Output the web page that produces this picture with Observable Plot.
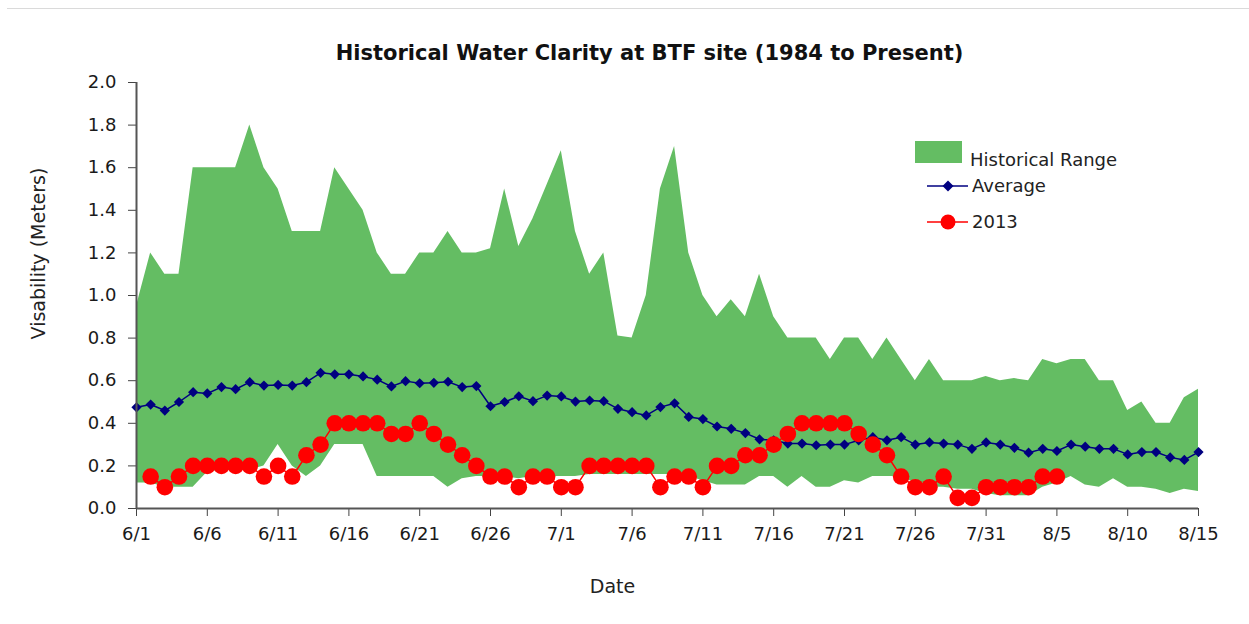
<!DOCTYPE html>
<html>
<head>
<meta charset="utf-8">
<script src="https://cdn.jsdelivr.net/npm/d3@7"></script>
<script src="https://cdn.jsdelivr.net/npm/@observablehq/plot@0.6"></script>
<style>
  body { margin: 0; background: #fff; }
  #wrap { position: relative; width: 1249px; height: 624px; font-family: "DejaVu Sans", sans-serif; overflow: hidden; }
  #topline { position: absolute; left: 7px; right: 0; top: 8px; border-top: 1px solid #dadada; }
  #legend { position: absolute; left: 0; top: 0; pointer-events: none; }
</style>
</head>
<body>
<div id="wrap"><div id="topline"></div></div>
<script>
const title = "Historical Water Clarity at BTF site (1984 to Present)";
const xTitle = "Date";
const yTitle = "Visability (Meters)";
const seriesNames = ["Historical Range", "Average", "2013"];

const dayLabels = [
  "6/1","6/2","6/3","6/4","6/5","6/6","6/7","6/8","6/9","6/10",
  "6/11","6/12","6/13","6/14","6/15","6/16","6/17","6/18","6/19","6/20",
  "6/21","6/22","6/23","6/24","6/25","6/26","6/27","6/28","6/29","6/30",
  "7/1","7/2","7/3","7/4","7/5","7/6","7/7","7/8","7/9","7/10",
  "7/11","7/12","7/13","7/14","7/15","7/16","7/17","7/18","7/19","7/20",
  "7/21","7/22","7/23","7/24","7/25","7/26","7/27","7/28","7/29","7/30",
  "7/31","8/1","8/2","8/3","8/4","8/5","8/6","8/7","8/8","8/9",
  "8/10","8/11","8/12","8/13","8/14","8/15"
];
const tickLabels = ["6/1","6/6","6/11","6/16","6/21","6/26","7/1","7/6","7/11","7/16","7/21","7/26","7/31","8/5","8/10","8/15"];
const yTicks = [0, 0.2, 0.4, 0.6, 0.8, 1.0, 1.2, 1.4, 1.6, 1.8, 2.0];

const upper = [
  0.95,1.2,1.1,1.1,1.6,1.6,1.6,1.6,1.8,1.6,
  1.5,1.3,1.3,1.3,1.6,1.5,1.4,1.2,1.1,1.1,
  1.2,1.2,1.3,1.2,1.2,1.22,1.5,1.23,1.36,1.52,
  1.68,1.3,1.1,1.2,0.81,0.8,1.0,1.5,1.7,1.2,
  1.0,0.9,0.98,0.9,1.1,0.9,0.8,0.8,0.8,0.7,
  0.8,0.8,0.7,0.8,0.7,0.6,0.7,0.6,0.6,0.6,
  0.62,0.6,0.61,0.6,0.7,0.68,0.7,0.7,0.6,0.6,
  0.46,0.5,0.4,0.4,0.52,0.56
];
const lower = [
  0.12,0.12,0.1,0.1,0.1,0.17,0.18,0.18,0.18,0.2,
  0.3,0.2,0.15,0.2,0.3,0.3,0.3,0.15,0.15,0.15,
  0.15,0.15,0.1,0.14,0.15,0.15,0.15,0.14,0.15,0.15,
  0.15,0.15,0.16,0.16,0.16,0.16,0.16,0.16,0.16,0.15,
  0.13,0.11,0.11,0.11,0.15,0.15,0.1,0.15,0.1,0.1,
  0.13,0.12,0.15,0.15,0.15,0.12,0.1,0.1,0.09,0.09,
  0.07,0.06,0.06,0.06,0.1,0.12,0.15,0.11,0.1,0.14,
  0.1,0.1,0.09,0.07,0.09,0.08
];
const average = [
  0.475,0.488,0.46,0.50,0.546,0.54,0.57,0.56,0.593,0.577,
  0.58,0.577,0.593,0.637,0.63,0.63,0.62,0.605,0.573,0.598,
  0.588,0.59,0.595,0.57,0.575,0.48,0.50,0.527,0.504,0.53,
  0.526,0.502,0.507,0.504,0.468,0.452,0.437,0.476,0.494,0.43,
  0.42,0.385,0.374,0.354,0.325,0.32,0.305,0.305,0.297,0.30,
  0.30,0.32,0.335,0.32,0.335,0.30,0.31,0.305,0.30,0.28,
  0.31,0.30,0.285,0.262,0.28,0.27,0.30,0.29,0.28,0.28,
  0.254,0.265,0.265,0.24,0.228,0.265
];
const y2013 = [
  null,0.15,0.1,0.15,0.2,0.2,0.2,0.2,0.2,0.15,
  0.2,0.15,0.25,0.3,0.4,0.4,0.4,0.4,0.35,0.35,
  0.4,0.35,0.3,0.25,0.2,0.15,0.15,0.1,0.15,0.15,
  0.1,0.1,0.2,0.2,0.2,0.2,0.2,0.1,0.15,0.15,
  0.1,0.2,0.2,0.25,0.25,0.3,0.35,0.4,0.4,0.4,
  0.4,0.35,0.3,0.25,0.15,0.1,0.1,0.15,0.05,0.05,
  0.1,0.1,0.1,0.1,0.15,0.15,null,null,null,null,
  null,null,null,null,null,null
];

const colors = { range: "#64bd63", avg: "#000080", y13: "#ff0000" };

const data = dayLabels.map((day, i) => ({
  i, day, upper: upper[i], lower: lower[i], avg: average[i], y13: y2013[i]
}));
const data13 = data.filter(d => d.y13 != null);
const tickIdx = tickLabels.map(t => dayLabels.indexOf(t));
const fmtX = i => dayLabels[i];

const chart = Plot.plot({
  width: 1249,
  height: 624,
  marginLeft: 136,
  marginRight: 51,
  marginTop: 82,
  marginBottom: 116,
  style: { fontFamily: "DejaVu Sans, sans-serif", fontSize: "18px", background: "white", color: "#1a1a1a" },
  x: { domain: [0, dayLabels.length - 1] },
  y: { domain: [0, 2] },
  marks: [
    Plot.areaY(data, { x: "i", y1: "lower", y2: "upper", fill: colors.range }),
    Plot.line(data, { x: "i", y: "avg", stroke: colors.avg, strokeWidth: 1.5 }),
    Plot.dot(data, { x: "i", y: "avg", symbol: "diamond2", r: 4.6, fill: colors.avg, stroke: "none" }),
    Plot.line(data13, { x: "i", y: "y13", stroke: colors.y13, strokeWidth: 1.5 }),
    Plot.dot(data13, { x: "i", y: "y13", r: 8.3, fill: colors.y13, stroke: "none" }),
    Plot.axisX({ ticks: tickIdx, tickFormat: fmtX, tickSize: 8, tickPadding: 11, label: null, stroke: "#444", fontSize: 18 }),
    Plot.axisY({ ticks: yTicks, tickFormat: d => d.toFixed(1), tickSize: 8, tickPadding: 12, label: null, stroke: "#444", fontSize: 18 }),
    Plot.ruleX([0], { stroke: "#555", strokeWidth: 2 }),
    Plot.ruleY([0], { stroke: "#555", strokeWidth: 2 }),
    Plot.text([title], { frameAnchor: "top", dx: -18, dy: -37, fontWeight: "bold", fontSize: 21, fill: "#111" }),
    Plot.text([xTitle], { frameAnchor: "bottom", dx: -55, dy: 84, fontSize: 19, fill: "#222" }),
    Plot.text([yTitle], { frameAnchor: "left", dx: -98, dy: -42, rotate: -90, textAnchor: "middle", fontSize: 19, fill: "#222" })
  ]
});
document.getElementById("wrap").appendChild(chart);

// Legend overlay
const ns = "http://www.w3.org/2000/svg";
const lg = document.createElementNS(ns, "svg");
lg.setAttribute("id", "legend");
lg.setAttribute("width", 1249);
lg.setAttribute("height", 624);
lg.style.fontFamily = "DejaVu Sans, sans-serif";
lg.innerHTML = `
  <rect x="915" y="141" width="47" height="22" fill="${colors.range}"/>
  <text x="970" y="160" dy="0.35em" font-size="18" fill="#222">${seriesNames[0]}</text>
  <line x1="927" y1="186" x2="968" y2="186" stroke="${colors.avg}" stroke-width="1.5"/>
  <path d="M948,180.5 L953.5,186 L948,191.5 L942.5,186 Z" fill="${colors.avg}"/>
  <text x="972" y="186" dy="0.35em" font-size="18" fill="#222">${seriesNames[1]}</text>
  <line x1="927" y1="222" x2="968" y2="222" stroke="${colors.y13}" stroke-width="1.5"/>
  <circle cx="948" cy="222" r="7.5" fill="${colors.y13}"/>
  <text x="972" y="222" dy="0.35em" font-size="18" fill="#222">${seriesNames[2]}</text>
`;
document.getElementById("wrap").appendChild(lg);
</script>
</body>
</html>
